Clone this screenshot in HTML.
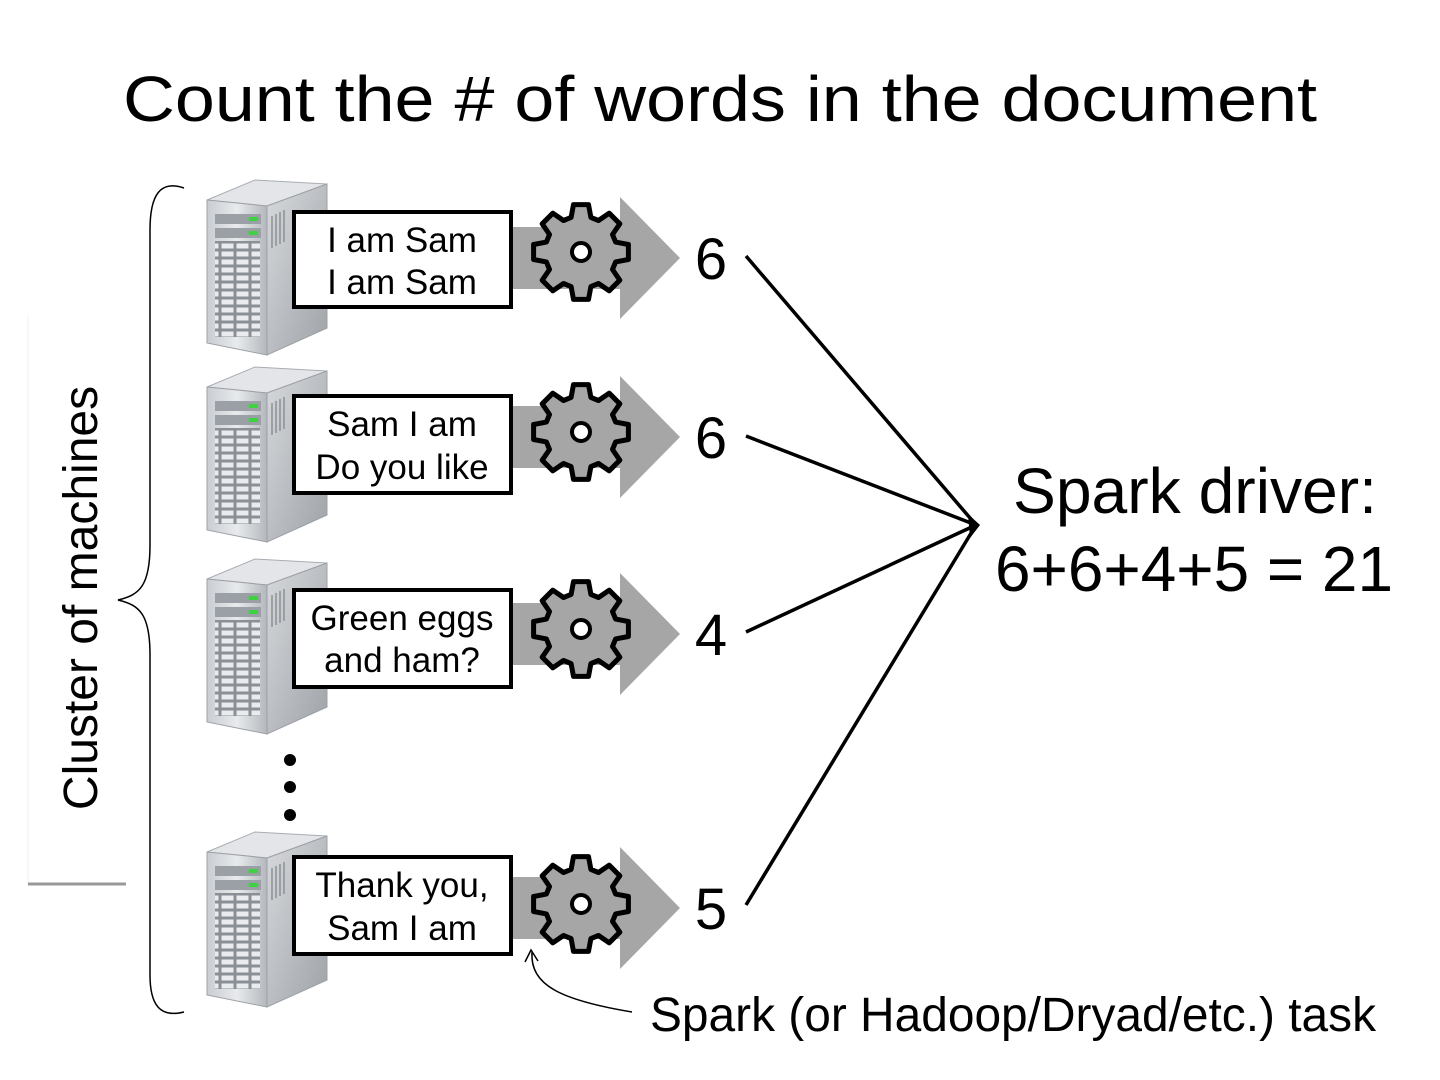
<!DOCTYPE html>
<html><head><meta charset="utf-8"><style>
html,body{margin:0;padding:0;background:#fff}
svg{display:block}
text{font-family:"Liberation Sans",sans-serif}
</style></head><body>
<svg width="1440" height="1080" viewBox="0 0 1440 1080" xmlns="http://www.w3.org/2000/svg">
<defs>
<linearGradient id="fr" x1="0" x2="1" y1="0" y2="0"><stop offset="0" stop-color="#c9cdd2"/><stop offset="0.5" stop-color="#e8eaec"/><stop offset="1" stop-color="#b4b8bd"/></linearGradient>
<linearGradient id="sd" x1="0" x2="1" y1="0" y2="1"><stop offset="0" stop-color="#d7d9dc"/><stop offset="1" stop-color="#9ea3a8"/></linearGradient>
<pattern id="bays" width="15" height="8" patternUnits="userSpaceOnUse"><rect width="15" height="8" fill="#8b9096"/><rect x="1.5" y="1.5" width="12" height="5" fill="#e9ebee"/></pattern>
<g id="srv">
<polygon points="2,22 50,2 122,6 62,28" fill="#e3e5e8" stroke="#a9adb2"/>
<polygon points="62,28 122,6 122,150 62,177" fill="url(#sd)" stroke="#9da1a6"/>
<polygon points="2,22 62,28 62,177 2,165" fill="url(#fr)" stroke="#9da1a6"/>
<rect x="10" y="36" width="46" height="10" fill="#9aa0a6"/>
<rect x="44" y="39" width="9" height="4" fill="#3fd13f"/>
<rect x="10" y="50" width="46" height="10" fill="#9aa0a6"/>
<rect x="44" y="53" width="9" height="4" fill="#3fd13f"/>
<rect x="10" y="63" width="45" height="96" fill="url(#bays)"/>
<g stroke="#8d9196" stroke-width="1.5"><line x1="67" y1="38" x2="67" y2="70"/><line x1="71" y1="36" x2="71" y2="68"/><line x1="75" y1="34" x2="75" y2="66"/><line x1="79" y1="32" x2="79" y2="64"/></g>
</g>
<g id="gear">
<polygon points="34.6,-9.9 47.4,-7.5 47.4,7.5 34.6,9.9 31.5,17.5 38.8,28.2 28.2,38.8 17.5,31.5 9.9,34.6 7.5,47.4 -7.5,47.4 -9.9,34.6 -17.5,31.5 -28.2,38.8 -38.8,28.2 -31.5,17.5 -34.6,9.9 -47.4,7.5 -47.4,-7.5 -34.6,-9.9 -31.5,-17.5 -38.8,-28.2 -28.2,-38.8 -17.5,-31.5 -9.9,-34.6 -7.5,-47.4 7.5,-47.4 9.9,-34.6 17.5,-31.5 28.2,-38.8 38.8,-28.2 31.5,-17.5" fill="#a6a6a6" stroke="#000" stroke-width="5" stroke-linejoin="round"/>
<circle r="9" fill="#fff" stroke="#000" stroke-width="4"/>
</g>
<g id="arr"><rect x="512" y="-31" width="110" height="62" fill="#a6a6a6"/><polygon points="620,-61 680,0 620,61" fill="#a6a6a6"/></g>
</defs>

<text x="720" y="121" font-size="64" textLength="1194" lengthAdjust="spacingAndGlyphs" text-anchor="middle">Count the # of words in the document</text>

<line x1="28" y1="315" x2="28" y2="885" stroke="#f0f0f0" stroke-width="1"/>
<line x1="28" y1="884" x2="126" y2="884" stroke="#999" stroke-width="3"/>
<text transform="translate(97,598) rotate(-90)" font-size="48" text-anchor="middle">Cluster of machines</text>
<path d="M184,188 C160,180 150,195 150,230 L150,545 C150,585 140,595 118,600 C140,605 150,615 150,655 L150,975 C150,1005 160,1018 184,1012" fill="none" stroke="#000" stroke-width="1.5"/>

<use href="#srv" x="205" y="178"/>
<use href="#srv" x="205" y="365"/>
<use href="#srv" x="205" y="557"/>
<use href="#srv" x="205" y="830"/>

<use href="#arr" y="258"/>
<use href="#arr" y="437"/>
<use href="#arr" y="634"/>
<use href="#arr" y="908"/>

<g fill="#fff" stroke="#000" stroke-width="4">
<rect x="294" y="212" width="217" height="95"/>
<rect x="294" y="396" width="217" height="97"/>
<rect x="294" y="590" width="217" height="97"/>
<rect x="294" y="857" width="217" height="97"/>
</g>
<g font-size="35" text-anchor="middle">
<text x="402" y="252">I am Sam</text><text x="402" y="294">I am Sam</text>
<text x="402" y="436">Sam I am</text><text x="402" y="479">Do you like</text>
<text x="402" y="630">Green eggs</text><text x="402" y="672">and ham?</text>
<text x="402" y="897">Thank you,</text><text x="402" y="940">Sam I am</text>
</g>

<use href="#gear" x="581" y="252"/>
<use href="#gear" x="581" y="432"/>
<use href="#gear" x="581" y="629"/>
<use href="#gear" x="581" y="904"/>

<g font-size="58" text-anchor="middle">
<text x="711" y="279">6</text>
<text x="711" y="458">6</text>
<text x="711" y="655">4</text>
<text x="711" y="929">5</text>
</g>

<g fill="#000"><circle cx="290" cy="760" r="6"/><circle cx="290" cy="787" r="6"/><circle cx="290" cy="815" r="6"/></g>

<g stroke="#000" stroke-width="3.5">
<line x1="746" y1="256" x2="976" y2="525"/>
<line x1="746" y1="436" x2="976" y2="525"/>
<line x1="746" y1="632" x2="976" y2="525"/>
<line x1="746" y1="905" x2="976" y2="525"/>
</g>
<polygon points="980,525 968,514 970,538" fill="#000"/>

<g font-size="64" text-anchor="middle">
<text x="1195" y="513" textLength="364" lengthAdjust="spacingAndGlyphs">Spark driver:</text>
<text x="1194" y="591" textLength="398" lengthAdjust="spacingAndGlyphs">6+6+4+5 = 21</text>
</g>

<path d="M632,1012 C560,1000 530,985 532,952" fill="none" stroke="#000" stroke-width="1.5"/>
<path d="M525,962 L531,950 L538,961" fill="none" stroke="#000" stroke-width="1.5"/>
<text x="650" y="1031" font-size="48" textLength="726" lengthAdjust="spacingAndGlyphs">Spark (or Hadoop/Dryad/etc.) task</text>
</svg>
</body></html>
